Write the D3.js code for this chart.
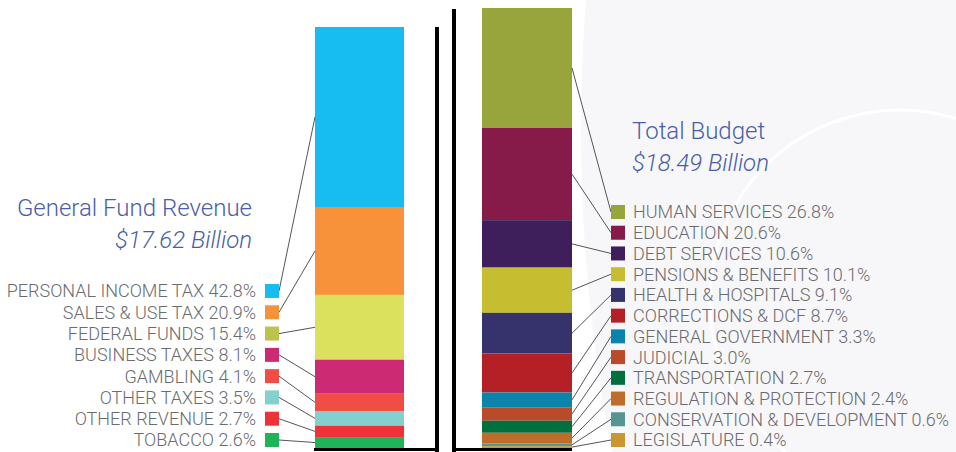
<!DOCTYPE html>
<html>
<head>
<meta charset="utf-8">
<script src="https://cdn.jsdelivr.net/npm/d3@7"></script>
<style>
  html, body { margin: 0; padding: 0; background: #fff; }
  svg { display: block; }
  text { font-family: Roboto, "Liberation Sans", Arial, sans-serif; }
</style>
</head>
<body>
<svg id="chart" width="956" height="452"></svg>
<script>
// ---- data ----
const revenueCategories = ["PERSONAL INCOME TAX", "SALES & USE TAX", "FEDERAL FUNDS", "BUSINESS TAXES",
  "GAMBLING", "OTHER TAXES", "OTHER REVENUE", "TOBACCO"];
const revenueValues = [42.8, 20.9, 15.4, 8.1, 4.1, 3.5, 2.7, 2.6];
const revenueColors = ["#17bdf0", "#f7913a", "#dbe15c", "#cc2a73", "#f04e45", "#84d0cc", "#ee3338", "#20b45a"];
const revenueSwatchColors = ["#17bdf0", "#f7913a", "#bec34e", "#cc2a73", "#f04e45", "#84d0cc", "#ee3338", "#20b45a"];

const budgetCategories = ["HUMAN SERVICES", "EDUCATION", "DEBT SERVICES", "PENSIONS & BENEFITS",
  "HEALTH & HOSPITALS", "CORRECTIONS & DCF", "GENERAL GOVERNMENT", "JUDICIAL", "TRANSPORTATION",
  "REGULATION & PROTECTION", "CONSERVATION & DEVELOPMENT", "LEGISLATURE"];
const budgetValues = [26.8, 20.6, 10.6, 10.1, 9.1, 8.7, 3.3, 3.0, 2.7, 2.4, 0.6, 0.4];
const budgetColors = ["#98a53c", "#861a48", "#3e1f5b", "#c7bd30", "#36336c", "#b52026", "#0a84ab",
  "#b94a2a", "#00703e", "#c06d2c", "#559592", "#c9962f"];

const revenueTitle = ["General Fund Revenue", "$17.62 Billion"];
const budgetTitle = ["Total Budget", "$18.49 Billion"];

// ---- drawing ----
const svg = d3.select("#chart");
const textColor = "#6a6b6e";
const titleColor = "#4a5ea8";

// faint seal watermark
svg.append("circle").attr("cx", 581 + 1688).attr("cy", 130).attr("r", 1688).attr("fill", "#f7f7fa");
svg.append("circle").attr("cx", 900).attr("cy", 300).attr("r", 190)
  .attr("fill", "none").attr("stroke", "#fff").attr("stroke-width", 3);

function stackOf(values) {
  let acc = 0;
  return values.map(v => { const s = acc; acc += v; return { y0: s, y1: acc }; });
}

function drawGroup(cfg) {
  const stacks = stackOf(cfg.values);
  const total = d3.sum(cfg.values);
  const y = d3.scaleLinear().domain([0, total]).range([cfg.top, cfg.bottom]);
  const x = d3.scaleBand().domain([cfg.name]).range([cfg.barX0, cfg.barX1]).padding(0);
  const legendY = d3.scalePoint().domain(cfg.categories).range([cfg.legTop, cfg.legBottom]);

  const g = svg.append("g");
  g.selectAll("rect.seg").data(cfg.values).join("rect")
    .attr("class", "seg")
    .attr("x", x(cfg.name))
    .attr("width", x.bandwidth())
    .attr("y", (d, i) => y(stacks[i].y0))
    .attr("height", (d, i) => y(stacks[i].y1) - y(stacks[i].y0))
    .attr("fill", (d, i) => cfg.colors[i]);

  // leader lines
  const barEdge = cfg.side === "left" ? x(cfg.name) : x(cfg.name) + x.bandwidth();
  g.selectAll("line.lead").data(cfg.values).join("line")
    .attr("class", "lead")
    .attr("x1", barEdge)
    .attr("y1", (d, i) => y((stacks[i].y0 + stacks[i].y1) / 2))
    .attr("x2", cfg.side === "left" ? cfg.swX + 14 : cfg.swX)
    .attr("y2", (d, i) => legendY(cfg.categories[i]))
    .attr("stroke", "#555")
    .attr("stroke-width", 1);

  // swatches
  g.selectAll("rect.sw").data(cfg.categories).join("rect")
    .attr("class", "sw")
    .attr("x", cfg.swX)
    .attr("y", d => legendY(d) - 7)
    .attr("width", 14).attr("height", 14)
    .attr("fill", (d, i) => cfg.swColors[i]);

  // labels
  g.selectAll("text.lab").data(cfg.categories).join("text")
    .attr("class", "lab")
    .attr("x", cfg.textX)
    .attr("y", d => legendY(d))
    .attr("dy", "0.36em")
    .attr("text-anchor", cfg.side === "left" ? "end" : "start")
    .attr("font-size", 18)
    .attr("font-weight", 300)
    .attr("fill", textColor)
    .text((d, i) => d + " " + cfg.values[i].toFixed(1) + "%");

  // titles
  g.append("text").attr("x", cfg.titleX).attr("y", cfg.titleY)
    .attr("text-anchor", cfg.side === "left" ? "end" : "start")
    .attr("font-size", 24).attr("font-weight", 300).attr("fill", titleColor)
    .text(cfg.title[0]);
  g.append("text").attr("x", cfg.titleX).attr("y", cfg.titleY + 32)
    .attr("text-anchor", cfg.side === "left" ? "end" : "start")
    .attr("font-size", 24).attr("font-weight", 300).attr("font-style", "italic").attr("fill", titleColor)
    .text(cfg.title[1]);

  // black frame lines (L shape)
  g.append("rect").attr("x", cfg.vX).attr("y", cfg.vTop).attr("width", 4).attr("height", 452 - cfg.vTop).attr("fill", "#000");
  g.append("rect").attr("x", cfg.hX0).attr("y", cfg.bottom).attr("width", cfg.hX1 - cfg.hX0).attr("height", 3).attr("fill", "#000");
}

drawGroup({
  name: "revenue", side: "left",
  categories: revenueCategories, values: revenueValues, colors: revenueColors, swColors: revenueSwatchColors,
  top: 27, bottom: 448, barX0: 315, barX1: 404,
  legTop: 291, legBottom: 440, swX: 265, textX: 256,
  title: revenueTitle, titleX: 252, titleY: 216,
  vX: 435, vTop: 27, hX0: 314, hX1: 439
});

drawGroup({
  name: "budget", side: "right",
  categories: budgetCategories, values: budgetValues, colors: budgetColors, swColors: budgetColors,
  top: 8, bottom: 448, barX0: 482, barX1: 572,
  legTop: 212, legBottom: 440, swX: 611, textX: 633,
  title: budgetTitle, titleX: 632, titleY: 139,
  vX: 452, vTop: 9, hX0: 452, hX1: 572
});
</script>
</body>
</html>
